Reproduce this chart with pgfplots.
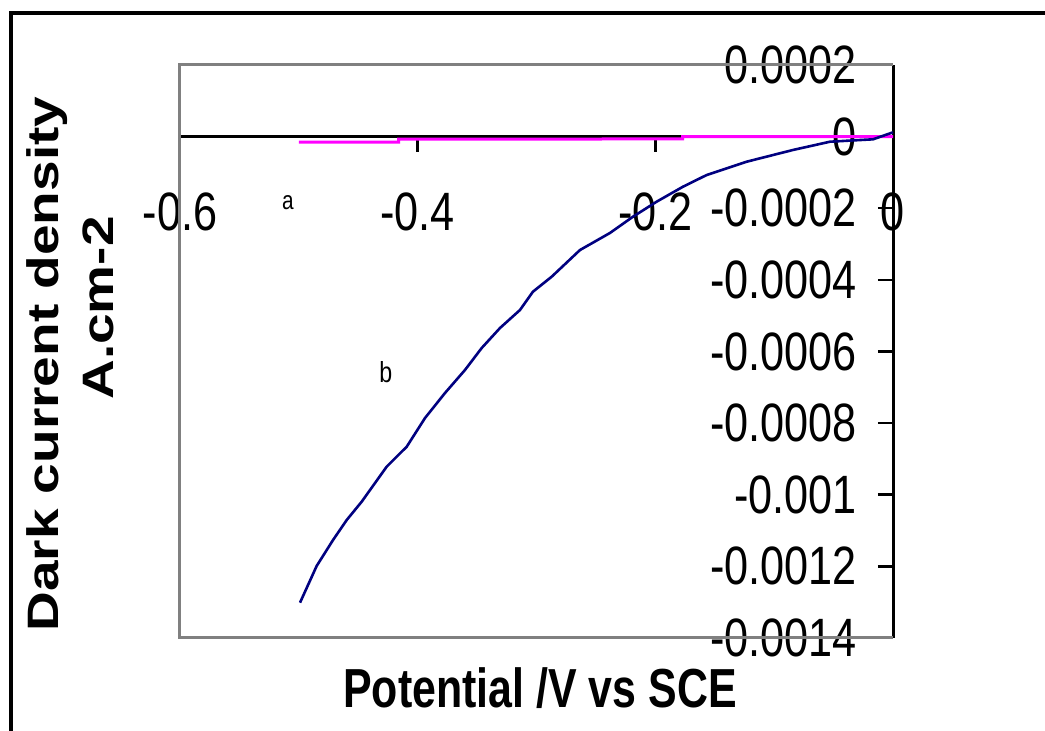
\documentclass[border=0pt]{standalone}
\usepackage{pgfplots}
\pgfplotsset{compat=1.18}
\usepackage{fontspec}
\newfontfamily\tickfont{Liberation Sans}[FakeStretch=0.8]
\newfontfamily\labfont{Liberation Sans}[FakeStretch=0.78]
\newfontfamily\ylabfont{Liberation Sans}[FakeStretch=1.25]
\definecolor{curveb}{HTML}{000080}
\definecolor{curvea}{HTML}{FF00FF}
\definecolor{framegray}{HTML}{808080}
\begin{document}
\begin{tikzpicture}[x=1pt,y=1pt]
\useasboundingbox (0,0) rectangle (1045,731);
\fill[white] (0,0) rectangle (1045,731);
\draw[black, line width=3.6pt] (10.8,-5) -- (10.8,718) -- (1050,718);
\begin{axis}[
  at={(180pt,93pt)}, anchor=south west,
  scale only axis, width=713pt, height=573pt,
  xmin=-0.6, xmax=0, ymin=-0.0014, ymax=0.0002,
  axis lines=middle,
  axis line style={-, black, line width=3pt},
  every inner x axis line/.append style={-},
  every inner y axis line/.append style={-},
  xtick={-0.6,-0.4,-0.2,0},
  xticklabels={-0.6,-0.4,-0.2,0},
  ytick={-0.0014,-0.0012,-0.001,-0.0008,-0.0006,-0.0004,-0.0002,0,0.0002},
  yticklabels={-0.0014,-0.0012,-0.001,-0.0008,-0.0006,-0.0004,-0.0002,0,0.0002},
  scaled x ticks=false, scaled y ticks=false,
  hide obscured x ticks=false, hide obscured y ticks=false,
  tick align=outside,
  major tick length=15pt,
  tick style={black, line width=2.5pt},
  xticklabel style={font=\tickfont\fontsize{54}{54}\selectfont, inner sep=0pt, anchor=north},
  yticklabel style={font=\tickfont\fontsize{54}{54}\selectfont, inner sep=0pt, anchor=east},
  xticklabel shift=41pt,
  yticklabel shift=21pt,
  xlabel={Potential /V vs SCE},
  xlabel style={at={(axis description cs:0.505,0)}, anchor=base, yshift=-70pt, inner sep=0pt,
    font=\labfont\bfseries\fontsize{55}{55}\selectfont},
  ylabel={Dark current density},
  ylabel style={at={(axis description cs:-0.1711,0.478)}, rotate=90, anchor=base, inner sep=0pt,
    font=\ylabfont\bfseries\fontsize{44}{44}\selectfont},
  clip=false,
]
\draw[framegray, line width=3pt] (rel axis cs:1,1) -- (rel axis cs:0,1) -- (rel axis cs:0,0) -- (rel axis cs:1,0);
\addplot[curvea, line width=3pt] coordinates {
(-0.500,-0.0000156) (-0.416,-0.0000156) (-0.416,-0.0000070) (-0.177,-0.0000065) (-0.177,0.0) (0.0,0.0)
};
\addplot[curveb, line width=2.6pt] coordinates {
(-0.4990,-0.0013014) (-0.4850,-0.0011989) (-0.4712,-0.0011263) (-0.4597,-0.0010705)
(-0.4471,-0.0010194) (-0.4261,-0.0009217) (-0.4092,-0.0008658) (-0.3938,-0.0007857)
(-0.3770,-0.0007159) (-0.3602,-0.0006517) (-0.3461,-0.0005902) (-0.3307,-0.0005344)
(-0.3139,-0.0004841) (-0.3030,-0.0004330) (-0.2872,-0.0003911) (-0.2634,-0.0003166)
(-0.2382,-0.0002691) (-0.2188,-0.0002236) (-0.1989,-0.0001817) (-0.1767,-0.0001398)
(-0.1568,-0.0001072) (-0.1231,-0.0000700) (-0.0842,-0.0000373) (-0.0530,-0.0000142)
(-0.0168,-0.0000075) (0.0,0.0000120)
};
\node[font=\tickfont\fontsize{26}{26}\selectfont, inner sep=0pt] at (axis cs:-0.5091,-0.000185) {a};
\node[font=\tickfont\fontsize{29}{29}\selectfont, inner sep=0pt] at (axis cs:-0.4267,-0.000657) {b};
\node[font=\ylabfont\bfseries\fontsize{44}{44}\selectfont, rotate=90, anchor=base, inner sep=0pt]
  at (axis description cs:-0.0926,0.576) {A.cm-2};
\end{axis}
\end{tikzpicture}
\end{document}
